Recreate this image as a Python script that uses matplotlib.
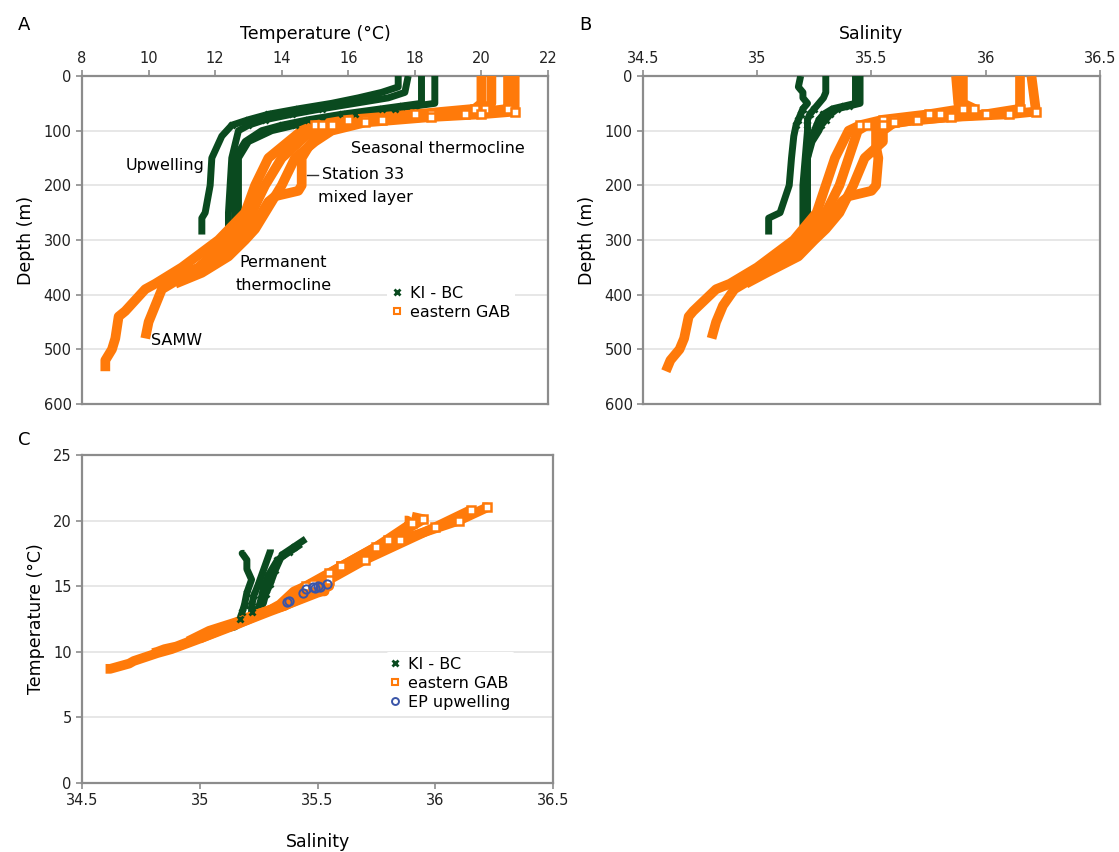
import matplotlib.pyplot as plt

plt.rcParams["font.family"] = "DejaVu Sans"

GREEN = "#0a4a1f"
ORANGE = "#ff7a0a"
BLUE = "#3a55a8"
SPINE = "#8c8c8c"
GRID = "#e3e3e3"

# KI - BC stations: depth (m), temperature (degC), salinity
kibc_depth = [
    [0, 20, 30, 40, 50, 60, 70, 80, 90, 110, 150, 200, 250, 260, 290],
    [0, 30, 40, 50, 60, 70, 80, 90, 100, 150, 200, 250, 280],
    [0, 50, 55, 60, 70, 80, 90, 100, 120, 150, 200, 250, 270],
    [0, 50, 55, 60, 70, 80, 90, 100, 120, 150, 200, 260],
]
kibc_temp = [
    [17.5, 17.5, 17.0, 16.3, 15.5, 14.5, 13.6, 13.0, 12.5, 12.2, 11.9, 11.85, 11.7, 11.6, 11.6],
    [17.8, 17.7, 17.2, 16.2, 15.2, 14.3, 13.5, 13.0, 12.7, 12.5, 12.45, 12.4, 12.4],
    [18.2, 18.2, 17.6, 17.0, 15.8, 14.8, 14.0, 13.4, 12.9, 12.6, 12.6, 12.6, 12.6],
    [18.6, 18.6, 18.0, 17.4, 16.2, 15.2, 14.4, 13.7, 13.0, 12.7, 12.7, 12.7],
]
kibc_sal = [
    [35.19, 35.18, 35.2, 35.2, 35.22, 35.2, 35.19, 35.18, 35.17, 35.16, 35.15, 35.14, 35.1, 35.05, 35.05],
    [35.3, 35.3, 35.29, 35.27, 35.25, 35.23, 35.22, 35.22, 35.22, 35.21, 35.2, 35.2, 35.2],
    [35.43, 35.43, 35.38, 35.33, 35.29, 35.27, 35.26, 35.25, 35.23, 35.22, 35.21, 35.21, 35.21],
    [35.45, 35.45, 35.4, 35.35, 35.32, 35.3, 35.28, 35.27, 35.24, 35.22, 35.22, 35.22],
]

# eastern GAB stations
gab_depth = [
    [0, 50, 60, 70, 80, 90, 100, 150, 200, 250, 300, 350, 380, 390, 430, 440, 480, 500, 520, 540],
    [0, 50, 60, 70, 80, 90, 100, 150, 200, 250, 300, 350, 390, 420, 450, 480],
    [0, 60, 70, 80, 90, 100, 130, 150, 200, 210, 220, 230, 260, 300, 350, 360],
    [0, 65, 70, 75, 85, 100, 120, 150, 200, 250, 280, 300, 330, 360, 380],
]
gab_temp = [
    [20.0, 20.0, 19.8, 18.0, 16.0, 15.0, 14.6, 13.6, 13.2, 12.9, 12.1, 11.0, 10.2, 9.9, 9.3, 9.1, 9.0, 8.9, 8.7, 8.7],
    [20.3, 20.3, 20.1, 18.5, 16.5, 15.2, 14.9, 14.0, 13.5, 13.1, 12.4, 11.5, 10.4, 10.2, 10.0, 9.9],
    [20.8, 20.8, 19.5, 17.0, 15.5, 15.2, 14.8, 14.6, 14.6, 14.5, 13.8, 13.6, 13.3, 12.6, 11.6, 11.0],
    [21.0, 21.0, 20.0, 18.5, 16.5, 15.5, 15.0, 14.4, 14.0, 13.5, 13.2, 12.9, 12.4, 11.6, 10.8],
]
gab_sal = [
    [35.87, 35.88, 35.9, 35.75, 35.55, 35.45, 35.4, 35.34, 35.3, 35.26, 35.16, 35.0, 34.88, 34.82, 34.72, 34.7, 34.68, 34.66, 34.62, 34.6],
    [35.9, 35.9, 35.95, 35.8, 35.6, 35.48, 35.44, 35.4, 35.36, 35.3, 35.2, 35.06, 34.9, 34.85, 34.82, 34.8],
    [36.15, 36.15, 36.0, 35.7, 35.55, 35.52, 35.52, 35.53, 35.52, 35.5, 35.4, 35.37, 35.32, 35.2, 35.08, 35.0],
    [36.2, 36.22, 36.1, 35.85, 35.6, 35.55, 35.55, 35.47, 35.42, 35.36, 35.3, 35.25, 35.18, 35.04, 34.95],
]

# EP upwelling (panel C)
ep_sal = [35.37, 35.38, 35.44, 35.45, 35.48, 35.49, 35.5, 35.51, 35.54]
ep_temp = [13.8, 13.9, 14.5, 14.8, 14.9, 14.85, 15.0, 14.95, 15.2]

depth_ticks = [0, 100, 200, 300, 400, 500, 600]
temp_ticks_a = [8, 10, 12, 14, 16, 18, 20, 22]
sal_ticks = [34.5, 35, 35.5, 36, 36.5]
sal_labels = ["34.5", "35", "35.5", "36", "36.5"]
temp_ticks_c = [0, 5, 10, 15, 20, 25]


def style_axes(ax):
    for s in ax.spines.values():
        s.set_color(SPINE)
        s.set_linewidth(1.6)
    ax.tick_params(colors="#222222", labelsize=10.5, length=4, color=SPINE, width=1.2)
    ax.grid(axis="y", color=GRID, linewidth=1.2)
    ax.set_axisbelow(True)


def draw_profile(ax, xs, ys, depth, color, marker, lw):
    ax.plot(xs, ys, color=color, lw=lw, solid_joinstyle="round", solid_capstyle="butt", zorder=3)
    # sparse thermocline samples show as open markers, dense ones merge into a band
    open_x = [x for x, d in zip(xs, depth) if 55 <= d <= 95]
    open_y = [y for y, d in zip(ys, depth) if 55 <= d <= 95]
    if marker == "s":
        ax.plot(open_x, open_y, ls="none", marker="s", ms=5.5, mew=1.8, mec=color, mfc="white", zorder=4)
    else:
        ax.plot(open_x, open_y, ls="none", marker="x", ms=5, mew=2, color=color, zorder=4)


fig = plt.figure(figsize=(11.19, 8.52), dpi=100)

# ---- Panel A ----
axA = fig.add_axes([0.0733, 0.5258, 0.4164, 0.385])
style_axes(axA)
for d, t in zip(kibc_depth, kibc_temp):
    draw_profile(axA, t, d, d, GREEN, "x", 5)
for d, t in zip(gab_depth, gab_temp):
    draw_profile(axA, t, d, d, ORANGE, "s", 7)
axA.set_xlim(8, 22)
axA.set_ylim(600, 0)
axA.set_xticks(temp_ticks_a)
axA.set_yticks(depth_ticks)
axA.xaxis.tick_top()
axA.xaxis.set_label_position("top")
axA.set_xlabel("Temperature (°C)", fontsize=12.5, labelpad=8)
axA.set_ylabel("Depth (m)", fontsize=12.5, labelpad=6)
axA.text(10.5, 163, "Upwelling", fontsize=11.5, ha="center", va="center")
axA.text(18.7, 132, "Seasonal thermocline", fontsize=11.5, ha="center", va="center")
axA.plot([14.75, 15.1], [181, 181], color="#333333", lw=1)
axA.text(15.2, 181, "Station 33", fontsize=11.5, ha="left", va="center")
axA.text(15.1, 222, "mixed layer", fontsize=11.5, ha="left", va="center")
axA.text(14.05, 342, "Permanent", fontsize=11.5, ha="center", va="center")
axA.text(14.05, 383, "thermocline", fontsize=11.5, ha="center", va="center")
axA.text(10.85, 483, "SAMW", fontsize=11.5, ha="center", va="center")
hA = [
    plt.Line2D([], [], ls="none", marker="x", ms=4, mew=2, color=GREEN, label="KI - BC"),
    plt.Line2D([], [], ls="none", marker="s", ms=4, mew=1.5, mec=ORANGE, mfc="white", label="eastern GAB"),
]
axA.legend(handles=hA, loc="upper left", bbox_to_anchor=(0.655, 0.375), frameon=True, framealpha=1,
           edgecolor="none", fontsize=11.5, handlelength=0.6, handletextpad=0.5,
           labelspacing=0.25, borderpad=0.3, borderaxespad=0)

# ---- Panel B ----
axB = fig.add_axes([0.5746, 0.5258, 0.4084, 0.385])
style_axes(axB)
for d, s in zip(kibc_depth, kibc_sal):
    draw_profile(axB, s, d, d, GREEN, "x", 5)
for d, s in zip(gab_depth, gab_sal):
    draw_profile(axB, s, d, d, ORANGE, "s", 7)
axB.set_xlim(34.5, 36.5)
axB.set_ylim(600, 0)
axB.set_xticks(sal_ticks, sal_labels)
axB.set_yticks(depth_ticks)
axB.xaxis.tick_top()
axB.xaxis.set_label_position("top")
axB.set_xlabel("Salinity", fontsize=12.5, labelpad=8)
axB.set_ylabel("Depth (m)", fontsize=12.5, labelpad=6)

# ---- Panel C ----
axC = fig.add_axes([0.0733, 0.081, 0.4209, 0.385])
style_axes(axC)
for d, s, t in zip(kibc_depth, kibc_sal, kibc_temp):
    draw_profile(axC, s, t, d, GREEN, "x", 5)
for d, s, t in zip(gab_depth, gab_sal, gab_temp):
    draw_profile(axC, s, t, d, ORANGE, "s", 7)
axC.plot(ep_sal, ep_temp, ls="none", marker="o", ms=6, mew=1.4, mec=BLUE, mfc="none", zorder=5)
axC.set_xlim(34.5, 36.5)
axC.set_ylim(0, 25)
axC.set_xticks(sal_ticks, sal_labels)
axC.set_yticks(temp_ticks_c)
axC.set_xlabel("Salinity", fontsize=12.5, labelpad=18)
axC.set_ylabel("Temperature (°C)", fontsize=12.5, labelpad=6)
hC = [
    plt.Line2D([], [], ls="none", marker="x", ms=4, mew=2, color=GREEN, label="KI - BC"),
    plt.Line2D([], [], ls="none", marker="s", ms=4, mew=1.5, mec=ORANGE, mfc="white", label="eastern GAB"),
    plt.Line2D([], [], ls="none", marker="o", ms=5, mew=1.4, mec=BLUE, mfc="none", label="EP upwelling"),
]
axC.legend(handles=hC, loc="upper left", bbox_to_anchor=(0.645, 0.40), frameon=True, framealpha=1,
           edgecolor="none", fontsize=11.5, handlelength=0.6, handletextpad=0.5,
           labelspacing=0.25, borderpad=0.3, borderaxespad=0)

fig.text(0.016, 0.965, "A", fontsize=13)
fig.text(0.518, 0.965, "B", fontsize=13)
fig.text(0.016, 0.478, "C", fontsize=13)

fig.savefig("out.png", dpi=100)
